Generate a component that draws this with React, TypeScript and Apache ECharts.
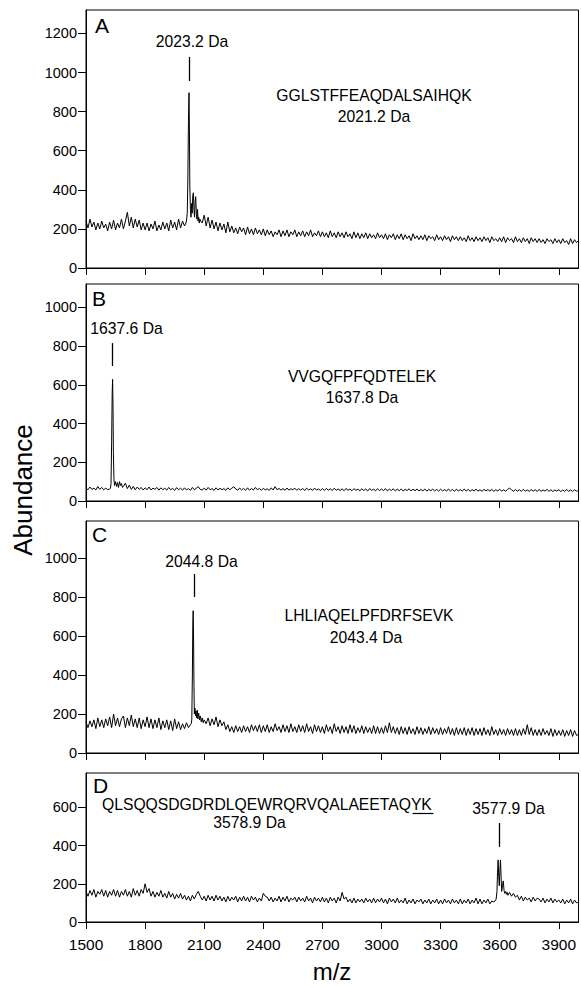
import React, { useEffect, useRef } from 'react';
import * as echarts from 'echarts';

const FONT = '"Liberation Sans", Arial, Helvetica, sans-serif';
const MZ_START = 1500;
const MZ_STEP = 10;
const X_TICKS = [1500, 1800, 2100, 2400, 2700, 3000, 3300, 3600, 3900];

// Panel A baseline (m/z 1500..4000 every 10)
const baseA = [
  240, 205, 250, 210, 235, 195, 230, 200, 240, 205,
  225, 190, 235, 200, 245, 195, 230, 205, 250, 200,
  240, 285, 215, 260, 205, 250, 210, 245, 195, 230,
  195, 230, 190, 225, 200, 240, 190, 220, 195, 235,
  200, 230, 190, 245, 205, 235, 195, 250, 205, 240,
  215, 225, 240, 300, 380, 330, 300, 260, 250, 230,
  270, 215, 260, 205, 245, 200, 235, 190, 230, 195,
  225, 180, 235, 185, 215, 180, 205, 175, 210, 185,
  205, 170, 210, 175, 200, 170, 205, 175, 195, 170,
  200, 165, 195, 170, 190, 160, 185, 170, 195, 160,
  190, 165, 195, 160, 185, 170, 195, 160, 185, 165,
  190, 160, 185, 165, 195, 160, 180, 165, 190, 160,
  185, 160, 180, 155, 190, 160, 180, 155, 185, 160,
  180, 155, 185, 160, 175, 150, 185, 155, 180, 150,
  175, 155, 180, 150, 175, 155, 170, 150, 180, 155,
  170, 150, 175, 145, 170, 155, 175, 145, 170, 150,
  175, 145, 170, 150, 165, 140, 175, 150, 165, 145,
  165, 145, 170, 140, 165, 150, 160, 140, 170, 145,
  160, 140, 165, 145, 160, 135, 165, 145, 160, 140,
  160, 140, 155, 135, 165, 140, 155, 135, 160, 140,
  155, 135, 160, 140, 155, 130, 160, 140, 150, 135,
  155, 135, 160, 130, 155, 140, 150, 130, 160, 135,
  150, 130, 155, 135, 150, 125, 155, 135, 150, 130,
  150, 130, 145, 125, 150, 135, 145, 125, 150, 130,
  145, 125, 150, 130, 140, 120, 150, 125, 145, 130,
  140,
];
const peakA: [number, number][] = [
  [2000, 215], [2005, 225], [2010, 240], [2014, 280], [2017, 450], [2020, 750],
  [2023, 897], [2025, 700], [2027, 420], [2030, 300], [2033, 260], [2036, 330],
  [2039, 280], [2042, 370], [2045, 385], [2048, 300], [2051, 260], [2054, 340],
  [2057, 365], [2060, 280], [2063, 250], [2066, 300], [2069, 240], [2072, 260],
  [2075, 230], [2078, 250], [2082, 240],
];

const baseB = [
  68, 58, 72, 60, 66, 57, 75, 60, 70, 58,
  66, 59, 70, 65, 70, 80, 75, 90, 80, 75,
  92, 64, 82, 60, 75, 58, 72, 60, 70, 57,
  68, 58, 72, 57, 66, 60, 70, 56, 68, 58,
  66, 56, 70, 58, 65, 55, 69, 58, 66, 56,
  68, 57, 64, 55, 70, 58, 66, 74, 60, 57,
  66, 56, 70, 58, 64, 55, 68, 57, 66, 58,
  64, 55, 68, 58, 66, 74, 62, 56, 67, 57,
  65, 55, 68, 56, 64, 57, 70, 58, 65, 55,
  66, 57, 63, 55, 68, 57, 74, 58, 65, 56,
  64, 55, 67, 56, 63, 58, 66, 55, 64, 56,
  65, 54, 66, 57, 63, 55, 67, 56, 62, 55,
  64, 54, 65, 56, 63, 54, 66, 55, 62, 54,
  63, 53, 65, 55, 62, 53, 64, 55, 61, 53,
  63, 54, 62, 52, 64, 55, 61, 53, 63, 54,
  62, 53, 64, 52, 61, 54, 63, 52, 61, 53,
  62, 52, 60, 54, 63, 52, 61, 53, 62, 52,
  60, 52, 62, 51, 60, 53, 61, 52, 60, 51,
  61, 52, 59, 51, 62, 52, 60, 50, 61, 52,
  59, 51, 61, 52, 60, 50, 59, 52, 61, 51,
  58, 50, 60, 52, 59, 51, 60, 50, 58, 52,
  60, 51, 58, 50, 60, 66, 58, 50, 59, 51,
  58, 50, 60, 51, 57, 50, 59, 51, 58, 50,
  59, 50, 57, 51, 60, 50, 58, 49, 57, 51,
  58, 49, 57, 50, 59, 50, 57, 49, 58, 50,
  55,
];
const peakB: [number, number][] = [
  [1620, 62], [1624, 65], [1627, 90], [1630, 300], [1633, 560], [1635, 628],
  [1637, 500], [1639, 250], [1642, 110], [1645, 80], [1650, 100], [1655, 75],
  [1660, 95], [1665, 70], [1670, 100], [1675, 80], [1680, 90], [1685, 70], [1690, 75],
];

const baseC = [
  160, 130, 165, 135, 170, 125, 180, 135, 170, 130,
  175, 140, 185, 130, 200, 140, 180, 135, 175, 190,
  130, 180, 140, 195, 135, 175, 130, 180, 125, 170,
  135, 185, 130, 175, 125, 170, 130, 180, 120, 165,
  130, 170, 120, 165, 115, 175, 125, 160, 120, 150,
  125, 155, 130, 150, 150, 700, 220, 210, 200, 190,
  190, 150, 180, 140, 175, 145, 185, 135, 170, 140,
  160, 120, 145, 110, 135, 105, 140, 110, 135, 105,
  140, 110, 135, 105, 145, 115, 140, 110, 145, 105,
  140, 110, 145, 105, 135, 110, 150, 115, 135, 105,
  145, 110, 140, 105, 150, 110, 135, 105, 145, 110,
  140, 105, 150, 110, 135, 100, 145, 110, 140, 105,
  135, 100, 145, 110, 135, 100, 150, 110, 135, 100,
  140, 105, 135, 100, 145, 105, 140, 100, 130, 105,
  140, 100, 135, 105, 130, 100, 140, 100, 135, 100,
  130, 100, 140, 105, 155, 105, 135, 100, 130, 95,
  135, 100, 130, 95, 135, 100, 125, 95, 135, 100,
  130, 95, 125, 100, 135, 95, 130, 100, 125, 95,
  130, 95, 125, 100, 135, 95, 125, 90, 130, 95,
  125, 95, 130, 90, 125, 95, 130, 90, 125, 95,
  125, 90, 130, 95, 120, 90, 135, 95, 120, 90,
  125, 95, 120, 90, 125, 95, 120, 90, 125, 90,
  120, 90, 125, 95, 145, 95, 130, 90, 120, 90,
  120, 90, 125, 95, 115, 90, 125, 85, 120, 90,
  115, 90, 120, 85, 115, 90, 120, 85, 115, 90,
  95,
];
const peakC: [number, number][] = [
  [2030, 145], [2034, 150], [2037, 170], [2040, 400], [2042, 650], [2044, 730],
  [2046, 600], [2048, 350], [2050, 200], [2053, 230], [2056, 190], [2059, 215],
  [2062, 180], [2065, 220], [2068, 175], [2072, 205], [2076, 170], [2080, 190],
  [2085, 160], [2090, 180], [2095, 155], [2100, 170],
];

const baseD = [
  160, 135, 165, 140, 170, 130, 160, 145, 170, 135,
  165, 130, 160, 140, 170, 135, 165, 130, 160, 140,
  170, 135, 160, 130, 175, 140, 165, 135, 170, 150,
  200, 155, 175, 135, 160, 130, 155, 135, 165, 130,
  150, 125, 160, 130, 150, 120, 145, 125, 150, 120,
  140, 115, 135, 110, 140, 120, 145, 160, 135, 115,
  135, 110, 140, 115, 135, 110, 140, 115, 135, 110,
  130, 105, 135, 110, 130, 115, 135, 105, 130, 110,
  135, 110, 130, 105, 135, 115, 130, 105, 125, 110,
  150, 135, 130, 110, 130, 105, 125, 110, 135, 105,
  130, 110, 135, 105, 125, 115, 130, 105, 130, 110,
  125, 105, 135, 110, 125, 100, 130, 110, 125, 105,
  130, 105, 125, 100, 130, 110, 125, 100, 130, 110,
  155, 120, 130, 105, 120, 100, 125, 100, 120, 105,
  120, 100, 125, 105, 120, 100, 125, 100, 120, 105,
  125, 100, 120, 95, 125, 105, 120, 100, 125, 100,
  115, 100, 125, 95, 115, 100, 120, 95, 115, 105,
  120, 95, 115, 100, 120, 95, 115, 100, 120, 95,
  115, 95, 120, 100, 115, 95, 120, 100, 115, 95,
  120, 95, 115, 100, 120, 95, 115, 100, 125, 95,
  120, 95, 115, 100, 120, 95, 110, 100, 115, 105,
  200, 160, 185, 155, 145, 155, 135, 150, 130, 140,
  115, 135, 110, 130, 115, 125, 105, 130, 110, 125,
  120, 105, 125, 100, 120, 105, 125, 100, 120, 105,
  115, 100, 120, 95, 115, 100, 120, 95, 115, 100,
  105,
];
const peakD: [number, number][] = [
  [3570, 105], [3576, 110], [3582, 120], [3586, 160], [3589, 260], [3592, 325],
  [3595, 240], [3598, 190], [3601, 270], [3604, 325], [3607, 240], [3610, 160],
  [3614, 190], [3618, 215], [3622, 165], [3626, 150], [3630, 160], [3634, 145],
  [3638, 155], [3642, 140],
];

const LETTERS = ['A', 'B', 'C', 'D'];
const Y_MAX = [1320, 1120, 1190, 780];
const Y_TICKS = [
  [0, 200, 400, 600, 800, 1000, 1200],
  [0, 200, 400, 600, 800, 1000],
  [0, 200, 400, 600, 800, 1000],
  [0, 200, 400, 600],
];
// [m/z, from, to]
const MARKERS: [number, number, number][] = [
  [2023, 957, 1080],
  [1632, 697, 815],
  [2048, 800, 918],
  [3600, 393, 518],
];

function build(base: number[], peak: [number, number][]) {
  const lo = peak[0][0];
  const hi = peak[peak.length - 1][0];
  const pts: [number, number][] = base
    .map((v, i) => [MZ_START + i * MZ_STEP, v] as [number, number])
    .filter((p) => p[0] < lo || p[0] > hi);
  return pts.concat(peak).sort((a, b) => a[0] - b[0]);
}

const SERIES = [build(baseA, peakA), build(baseB, peakB), build(baseC, peakC), build(baseD, peakD)];
const LAYOUT = [
  { top: 10, height: 258 },
  { top: 284, height: 217 },
  { top: 521, height: 232 },
  { top: 773, height: 149 },
];

function txt(text: string, x: number, y: number, size: number, align = 'center', extra: any = {}) {
  return {
    type: 'text',
    x,
    y,
    silent: true,
    style: {
      text,
      fill: '#000',
      font: `${size}px ${FONT}`,
      textAlign: align,
      textVerticalAlign: 'middle',
    },
    ...extra,
  };
}

export default function App() {
  const ref = useRef<HTMLDivElement>(null);
  useEffect(() => {
    if (!ref.current) return;
    const chart = echarts.init(ref.current, null, { renderer: 'svg' });
    const ann = 15.7;
    const option: any = {
      animation: false,
      backgroundColor: '#fff',
      grid: LAYOUT.map((l) => ({
        left: 86,
        width: 492.5,
        top: l.top,
        height: l.height,
        show: true,
        borderColor: '#000',
        borderWidth: 1,
        outerBoundsMode: 'none',
      })),
      xAxis: LAYOUT.map((_, i) => ({
        type: 'value',
        gridIndex: i,
        min: 1500,
        max: 4000,
        axisLine: { show: true, onZero: false, lineStyle: { color: '#000', width: 1 } },
        axisTick: { show: true, length: 7, customValues: X_TICKS, lineStyle: { color: '#000', width: 1 } },
        axisLabel: {
          show: i === 3,
          customValues: X_TICKS,
          formatter: (v: number) => String(v),
          margin: 14,
          fontSize: 15.5,
          color: '#000',
          fontFamily: FONT,
        },
        splitLine: { show: false },
      })),
      yAxis: LAYOUT.map((_, i) => ({
        type: 'value',
        gridIndex: i,
        min: 0,
        max: Y_MAX[i],
        axisLine: { show: true, onZero: false, lineStyle: { color: '#000', width: 1 } },
        axisTick: { show: true, length: 8, customValues: Y_TICKS[i], lineStyle: { color: '#000', width: 1 } },
        axisLabel: {
          customValues: Y_TICKS[i],
          formatter: (v: number) => String(v),
          margin: 9,
          fontSize: 14.5,
          color: '#000',
          fontFamily: FONT,
        },
        splitLine: { show: false },
      })),
      series: SERIES.map((data, i) => ({
        type: 'line',
        xAxisIndex: i,
        yAxisIndex: i,
        data,
        showSymbol: false,
        symbol: 'none',
        lineStyle: { color: '#000', width: 1 },
        silent: true,
        markLine: {
          silent: true,
          symbol: ['none', 'none'],
          label: { show: false },
          lineStyle: { color: '#000', width: 1.3, type: 'solid' },
          data: [[{ coord: [MARKERS[i][0], MARKERS[i][1]] }, { coord: [MARKERS[i][0], MARKERS[i][2]] }]],
        },
      })),
      graphic: [
        txt(LETTERS[0], 95, 25.5, 21, 'left'),
        txt('2023.2 Da', 192, 41.5, ann),
        txt('GGLSTFFEAQDALSAIHQK', 374, 95.5, ann),
        txt('2021.2 Da', 374, 116, ann),
        txt(LETTERS[1], 92, 298.5, 21, 'left'),
        txt('1637.6 Da', 126.5, 328, ann),
        txt('VVGQFPFQDTELEK', 362, 376, ann),
        txt('1637.8 Da', 362, 397, ann),
        txt(LETTERS[2], 92, 534, 21, 'left'),
        txt('2044.8 Da', 201.5, 561.5, ann),
        txt('LHLIAQELPFDRFSEVK', 369, 615, ann),
        txt('2043.4 Da', 366, 637, ann),
        txt(LETTERS[3], 93, 785, 21, 'left'),
        txt('QLSQQSDGDRDLQEWRQRVQALAEETAQYK', 102, 804, ann, 'left'),
        {
          type: 'line',
          silent: true,
          shape: { x1: 412.6, y1: 813.5, x2: 433.5, y2: 813.5 },
          style: { stroke: '#000', lineWidth: 1.2 },
        },
        txt('3578.9 Da', 249.5, 822.5, ann),
        txt('3577.9 Da', 508.5, 808.5, ann),
        txt('Abundance', 22.5, 490, 26, 'center', { rotation: Math.PI / 2 }),
        txt('m/z', 332, 971, 24),
      ],
    };
    chart.setOption(option);
    return () => chart.dispose();
  }, []);
  return (
    <div
      ref={ref}
      style={{ position: 'fixed', left: 0, top: 0, width: 581, height: 988, background: '#fff' }}
    />
  );
}
